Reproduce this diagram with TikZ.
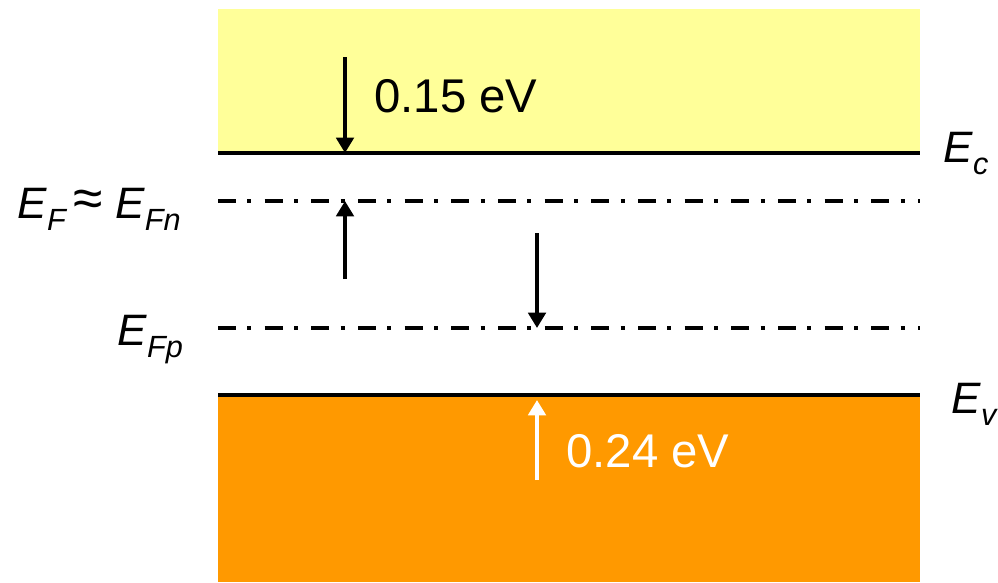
\documentclass[tikz,border=0pt]{standalone}
\usepackage{fontspec}
\setmainfont{Liberation Sans}
\usetikzlibrary{arrows.meta}
\definecolor{cband}{HTML}{FFFF99}
\definecolor{vband}{HTML}{FF9900}
% energy symbol with an italic subscript
\newcommand\Elev[1]{\textit{E}\raisebox{-9pt}{\fontsize{23}{23}\selectfont\textit{#1}}}
\begin{document}
\begin{tikzpicture}[x=0.75pt,y=-0.75pt,
  level/.style={line width=3pt},
  quasi/.style={line width=3pt,dash pattern=on 13.5pt off 8.5pt on 3pt off 10pt},
  gap/.style={line width=3pt,-{Triangle[length=11.5pt,width=13pt]}},
  sym/.style={inner sep=0pt,anchor=base west,font=\fontsize{33}{33}\selectfont},
  val/.style={inner sep=0pt,anchor=base west,font=\fontsize{35.5}{35.5}\selectfont}]
\useasboundingbox (0,0) rectangle (998,582);
% bands
\fill[cband] (218,9) rectangle (920,153);
\fill[vband] (218,395) rectangle (920,582);
% band edges and quasi-Fermi levels
\draw[level] (218,153) -- (920,153);
\draw[level] (218,395) -- (920,395);
\draw[quasi] (218,201) -- (920,201);
\draw[quasi] (218,328) -- (920,328);
% arrow end points
\coordinate (a1s) at (345,57);  \coordinate (a1e) at (345,153);
\coordinate (a2s) at (345,279); \coordinate (a2e) at (345,201);
\coordinate (a3s) at (537,233); \coordinate (a3e) at (537,328);
\coordinate (a4s) at (537,480); \coordinate (a4e) at (537,400);
\draw[gap] (a1s) -- (a1e);
\draw[gap] (a2s) -- (a2e);
\draw[gap] (a3s) -- (a3e);
\draw[gap,white] (a4s) -- (a4e);
% labels
\node[val] (t1) at (374,112) {0.15 eV};
\node[val,text=white] (t2) at (566,467) {0.24 eV};
\node[sym] (lf) at (17,218) {\Elev{F}\hspace{5pt}{\fontsize{40}{40}\selectfont\raisebox{1pt}{≈}}\hspace{9pt}\Elev{Fn}};
\node[sym] (lp) at (117,345) {\Elev{Fp}};
\node[sym] (lc) at (943,162) {\Elev{c}};
\node[sym] (lv) at (951,413) {\Elev{v}};
\end{tikzpicture}
\end{document}
